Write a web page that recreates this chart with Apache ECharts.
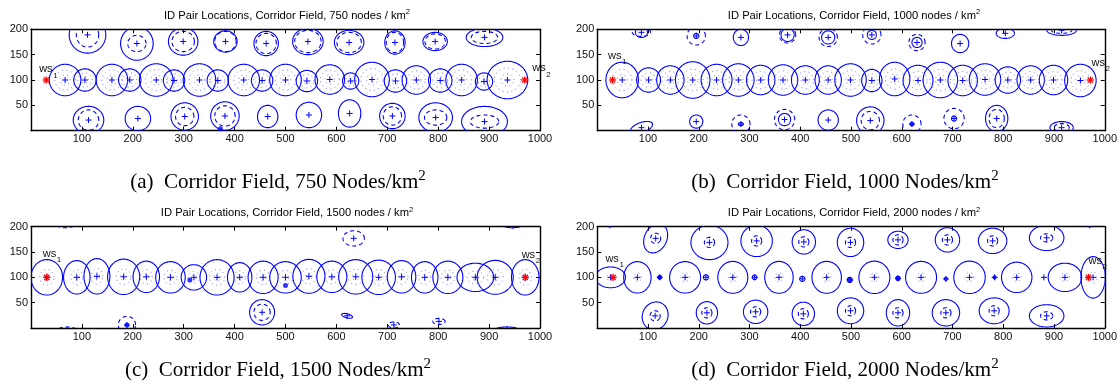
<!DOCTYPE html>
<html><head><meta charset="utf-8">
<script src="https://cdn.jsdelivr.net/npm/echarts@6/dist/echarts.min.js"></script>
<style>html,body{margin:0;padding:0;background:#fff}#c{width:1120px;height:386px}</style>
</head><body><div id="c"></div><script>
// ---------- data ----------
const densities = ['750', '1000', '1500', '2000'];
const panelLetters = ['a', 'b', 'c', 'd'];
const xTickStep = 100, xMin = 0, xMax = 1000;
const yTickStep = 50, yMin = 0, yMax = 200;

// node: [x, y, solid rx, solid ry, dashed rx, dashed ry, rotation deg]
const nodesA = [
  [67,100,31,31,0,0,0],[106,100,22,22,0,0,0],[159,100,31,31,0,0,0],[194,100,22,22,0,0,0],
  [246,100,33,32,0,0,0],[281,99,21,21,0,0,0],[331,100,32,32,0,0,0],[367,99,21,21,0,0,0],
  [418,100,31,31,0,0,0],[454,99,21,21,0,0,0],[500,100,31,31,0,0,0],[542,98,21,21,0,0,0],
  [587,101,29,29,0,0,0],[628,98,16,16,0,0,0],[670,101,34,34,0,0,0],[716,98,22,22,0,0,0],
  [757,100,28,28,0,0,0],[804,99,23,23,0,0,0],[846,100,31,31,0,0,0],[890,97,17,17,0,0,0],
  [936,100,40,37,0,0,0],
  [111,189,36,36,22,24,0],[208,172,32,33,18,16,0],[299,176,29,27,22,20,0],[382,176,23,21,21,20,0],
  [462,172,24,24,20,20,0],[544,176,30,26,26,22,0],[625,174,29,24,24,20,0],[715,174,20,23,17,20,0],
  [794,176,24,18,20,15,0],[891,184,36,18,26,12,0],
  [113,21,30,27,20,20,0],[210,24,25,24,0,0,0],[302,28,27,27,18,18,0],[381,29,28,28,20,20,0],
  [465,28,20,22,0,0,0],[546,31,25,25,0,0,0],[626,34,22,27,0,0,0],[710,29,25,25,18,18,0],
  [795,26,33,29,22,15,0],[891,18,45,30,28,13,0]
];
const nodesB = [
  [49,100,32,35,0,0,0],[101,100,23.5,24,0,0,0],[144,100,27,28,0,0,0],[188,100,34,36,0,0,0],
  [235,100,30.5,31,0,0,0],[278,100,31,32,0,0,0],[322,100,28,29,0,0,0],[366,100,29,30,0,0,0],
  [410,100,27.5,28,0,0,0],[455,100,26,28,0,0,0],[499,100,31,32,0,0,0],[541,99,20,22,0,0,0],
  [586,102,30,33,0,0,0],[632,99,29.5,30,0,0,0],[676,100,34,35,0,0,0],[720,99,29,30,0,0,0],
  [764,101,31,31,0,0,0],[809,100,25,26,0,0,0],[854,100,27,28,0,0,0],[899,100,28,29,0,0,0],
  [952,99,31,32,0,0,0],
  [87,194,12,10,18,8,0],[195,187,5,5,18,18,0],[283,184,15,16,0,0,0],[375,189,13,13,16,16,0],
  [455,184,13,13,18,18,0],[541,189,9,9,18,18,0],[630,174,10,10,16,16,0],[715,172,17,18,0,0,0],
  [804,192,18,10,0,0,0],[915,198,29,10,20,6,0],
  [87,6,23,10,0,0,20],[195,18,13,13,0,0,0],[283,13,5,3,18,18,0],[369,22,12,12,20,20,0],
  [455,21,20,20,0,0,0],[538,20,27,27,18,18,0],[620,13,0,0,18,18,0],[703,24,5,5,20,20,0],
  [787,24,22,26,15,18,0],[915,6,23,12,15,8,0]
];
const nodesC = [
  [31,100,31,35,0,0,0],[90,100,26,33,0,0,0],[129.5,102,25.5,35,0,0,0],[182,101,31.5,35,0,0,0],
  [226.5,101,26,31,0,0,0],[274,100,29,31,0,0,0],[320,100,25,25,0,0,0],[365.5,100,33.5,35,0,0,0],
  [410,100,24,29,0,0,0],[456,100,29.5,32,0,0,0],[500,100,31,31,0,0,0],[546,102,31.5,33.5,0,0,0],
  [591,101,29.5,31,0,0,0],[638,101,33.5,34,0,0,0],[683,100,33,34,0,0,0],[728,101,28,32,0,0,0],
  [773.5,100,26,31,0,0,0],[819,100,29.5,32,0,0,0],[873,100,36,28,0,0,0],[912,100,35.5,33.5,0,0,0],
  [971,100,27,35,0,0,0],
  [68,204,0,0,18,6,0],[634,177,0,0,21,15,0],[946,202,17,4,0,0,0],
  [71,-3,0,0,17,5,0],[188.5,6,0,0,17,17,0],[454,31,24.5,25,16,16,0],[621,24,11,4,0,0,-15],
  [713,6,0,0,11,6,0],[801.5,13,0,0,12,6,0],[935,-2,21,4,0,0,0]
];
const nodesD = [
  [26,100,29.5,20.5,0,0,0],[79,100,27,31,0,0,0],[123,100,3,3,0,0,0],[173,100,30.5,31,0,0,0],
  [214,100,5,5,0,0,0],[267,100,29.5,31.5,0,0,0],[310,100,4.5,4.5,0,0,0],[358,100,28,31.5,0,0,0],
  [404,97,5,5,0,0,0],[452,100,29,31.5,0,0,0],[497.5,95,5,5,0,0,0],[546,100,30.5,32,0,0,0],
  [592.5,98,4,4,0,0,0],[638,100,30.5,31.5,0,0,0],[687,97,3,3,0,0,0],[733.5,100,31,32,0,0,0],
  [783,100,3,3,0,0,0],[826.5,100,30,30,0,0,0],[880,100,0,0,0,0,0],[921.5,100,33,28,0,0,0],
  [977,100,24,41,0,0,0],
  [25,203,8,3,0,0,0],[115,177,22,30,10,10,-25],[221,169,36.5,34,10,10,0],[314,172,31,31,10,10,0],
  [407,170,23,24,10,10,0],[499,169,26,28,10,10,0],[592.5,174,20,17,10,10,0],[690,174,24,24,10,10,0],
  [779,172,28,25,10,10,0],[885.5,178,34,25,12,8,0],[970,203,10,3,0,0,0],
  [114,24,25,28,10,10,-25],[216,30,21,22,10,10,0],[312,32,24,23,10,10,0],[406,28,22,23,10,10,0],
  [499,34,26,25.5,10,10,0],[592.5,30,23,26,10,10,0],[687,30,27,26,10,10,0],[782,34,29.5,25.5,10,10,0],
  [885.5,24,34,22,12,8,0]
];
// filled dots
const dotsA = [[372,4]];
const dotsB = [[620,13]];
const dotsC = [[312,95],[500,84],[188.5,6]];
const dotsD = [[123,100],[497.5,95],[592.5,98]];
// red asterisks (ws1, ws2)
const wsPts = [
  [[30,100],[970,100]],
  [[30,100],[971.5,100]],
  [[31,100],[971,100]],
  [[31,100],[968,100]]
];
// ws labels [x, y, subscript]
const wsLabels = [
  [[16,121,1],[985,123,2]],
  [[21,147,1],[974,133,2]],
  [[23,146,1],[964,145,2]],
  [[16,136,1],[968,133,2]]
];
const allNodes = [nodesA, nodesB, nodesC, nodesD];
const allDots = [dotsA, dotsB, dotsC, dotsD];
const dotRatios = [[0.64,0.32],[0.6,0.3],[0.45,0.2],[0.28]];

// ---------- layout ----------
const grids = [
  {left:31, top:29.3, width:509, height:101.4},
  {left:597.3, top:29.3, width:509.4, height:101.4},
  {left:31, top:226.7, width:509, height:101.3},
  {left:597.3, top:226.7, width:509.4, height:101.3}
];
const titleCenters = [[287,15.5],[854,15.5],[287,213],[854,213]];
const captionCenters = [[278,182],[845,182],[278,370],[845,370]];
const BLUE = '#0000ff';
const SANS = 'Liberation Sans, Arial, sans-serif';
const SERIF = 'Liberation Serif, Times New Roman, serif';

function clipOf(params){
  const cs = params.coordSys;
  return {type:'rect', shape:{x:cs.x, y:cs.y, width:cs.width, height:cs.height}};
}
function ellPts(api, cx, cy, rx, ry, rotDeg){
  const th = rotDeg*Math.PI/180, pts=[];
  for(let i=0;i<=90;i++){
    const t=i/90*2*Math.PI, ex=rx*Math.cos(t), ey=ry*Math.sin(t);
    pts.push(api.coord([cx+ex*Math.cos(th)-ey*Math.sin(th), cy+ex*Math.sin(th)+ey*Math.cos(th)]));
  }
  return pts;
}
function nodeRender(pi){
  return function(params, api){
    const x=api.value(0), y=api.value(1), srx=api.value(2), sry=api.value(3),
          drx=api.value(4), dry=api.value(5);
    let rot=api.value(6); if(!isFinite(rot)) rot=0;
    const ch=[];
    if(srx>10 && Math.abs(y-100)<12){
      dotRatios[pi].forEach(f=>{
        ch.push({type:'polyline', shape:{points:ellPts(api,x,y,srx*f,sry*f,rot)},
          style:{stroke:'#6a6aff', fill:null, lineWidth:1, lineDash:[1,3.5]}});
      });
    }
    if(srx>0) ch.push({type:'polyline', shape:{points:ellPts(api,x,y,srx,sry,rot)},
      style:{stroke:BLUE, fill:null, lineWidth:1.1}});
    if(drx>0) ch.push({type:'polyline', shape:{points:ellPts(api,x,y,drx,dry,rot)},
      style:{stroke:BLUE, fill:null, lineWidth:1.1, lineDash:[4,3]}});
    const c=api.coord([x,y]), a=3;
    ch.push({type:'line', shape:{x1:c[0]-a,y1:c[1],x2:c[0]+a,y2:c[1]}, style:{stroke:BLUE,lineWidth:1}});
    ch.push({type:'line', shape:{x1:c[0],y1:c[1]-a,x2:c[0],y2:c[1]+a}, style:{stroke:BLUE,lineWidth:1}});
    return {type:'group', children:ch, clipPath:clipOf(params)};
  };
}
function starRender(params, api){
  const c=api.coord([api.value(0), api.value(1)]), a=3.6, d=2.6, ch=[];
  [[a,0],[0,a],[d,d],[d,-d]].forEach(v=>{
    ch.push({type:'line', shape:{x1:c[0]-v[0],y1:c[1]-v[1],x2:c[0]+v[0],y2:c[1]+v[1]},
      style:{stroke:'#ff0000', lineWidth:1.3}});
  });
  return {type:'group', children:ch};
}
function labelRender(params, api){
  const c=api.coord([api.value(0), api.value(1)]);
  return {type:'group', children:[
    {type:'text', x:c[0], y:c[1], style:{text:'ws', font:'11px '+SANS, fill:'#111', verticalAlign:'middle', align:'left'}},
    {type:'text', x:c[0]+14, y:c[1]+6, style:{text:String(api.value(2)), font:'8px '+SANS, fill:'#111', verticalAlign:'middle', align:'left'}}
  ]};
}

const option = {
  animation:false,
  backgroundColor:'#fff',
  grid: grids,
  xAxis: [], yAxis: [], series: [], graphic: []
};
const frame = {onZero:false, lineStyle:{color:'#000', width:1.4}};
const ticks = {inside:true, length:4, lineStyle:{color:'#000'}};
for(let i=0;i<4;i++){
  option.xAxis.push({type:'value', gridIndex:i, min:xMin, max:xMax, interval:xTickStep, position:'bottom',
    splitLine:{show:false}, axisLine:frame, axisTick:ticks,
    axisLabel:{margin:3, fontSize:11, fontFamily:SANS, color:'#111', formatter:v=>v===0?'':String(v)}});
}
for(let i=0;i<4;i++){
  option.xAxis.push({type:'value', gridIndex:i, min:xMin, max:xMax, interval:xTickStep, position:'top',
    splitLine:{show:false}, axisLabel:{show:false}, axisLine:frame, axisTick:ticks});
}
for(let i=0;i<4;i++){
  option.yAxis.push({type:'value', gridIndex:i, min:yMin, max:yMax, interval:yTickStep, position:'left',
    splitLine:{show:false}, axisLine:frame, axisTick:ticks,
    axisLabel:{margin:3, fontSize:11, fontFamily:SANS, color:'#111', formatter:v=>v===0?'':String(v)}});
}
for(let i=0;i<4;i++){
  option.yAxis.push({type:'value', gridIndex:i, min:yMin, max:yMax, interval:yTickStep, position:'right',
    splitLine:{show:false}, axisLabel:{show:false}, axisLine:frame, axisTick:ticks});
}
for(let i=0;i<4;i++){
  option.series.push({type:'custom', xAxisIndex:i, yAxisIndex:i, renderItem:nodeRender(i),
    dimensions:['x','y','srx','sry','drx','dry','rot'], encode:{x:0,y:1}, data:allNodes[i], z:2});
  option.series.push({type:'scatter', xAxisIndex:i, yAxisIndex:i, data:allDots[i], symbolSize:5,
    itemStyle:{color:BLUE}, z:3, clip:true});
  option.series.push({type:'custom', xAxisIndex:i, yAxisIndex:i, renderItem:starRender,
    data:wsPts[i], z:4});
  option.series.push({type:'custom', xAxisIndex:i, yAxisIndex:i, renderItem:labelRender,
    data:wsLabels[i], z:5, clip:false});
  option.graphic.push({type:'text', x:titleCenters[i][0], y:titleCenters[i][1], style:{
    text:'{t|ID Pair Locations, Corridor Field, '+densities[i]+' nodes / km}{s|2}',
    align:'center', verticalAlign:'middle',
    rich:{t:{fontSize:11.2, fontFamily:SANS, fill:'#000', lineHeight:15},
          s:{fontSize:7.5, fontFamily:SANS, fill:'#000', lineHeight:8, verticalAlign:'top'}}}});
  option.graphic.push({type:'text', x:captionCenters[i][0], y:captionCenters[i][1], style:{
    text:'{t|('+panelLetters[i]+')\u2002Corridor Field, '+densities[i]+' Nodes/km}{s|2}',
    align:'center', verticalAlign:'middle',
    rich:{t:{fontSize:21, fontFamily:SERIF, fill:'#000', lineHeight:26},
          s:{fontSize:15, fontFamily:SERIF, fill:'#000', lineHeight:15, verticalAlign:'top'}}}});
}
const chart = echarts.init(document.getElementById('c'), null, {renderer:'canvas'});
chart.setOption(option);
</script></body></html>
